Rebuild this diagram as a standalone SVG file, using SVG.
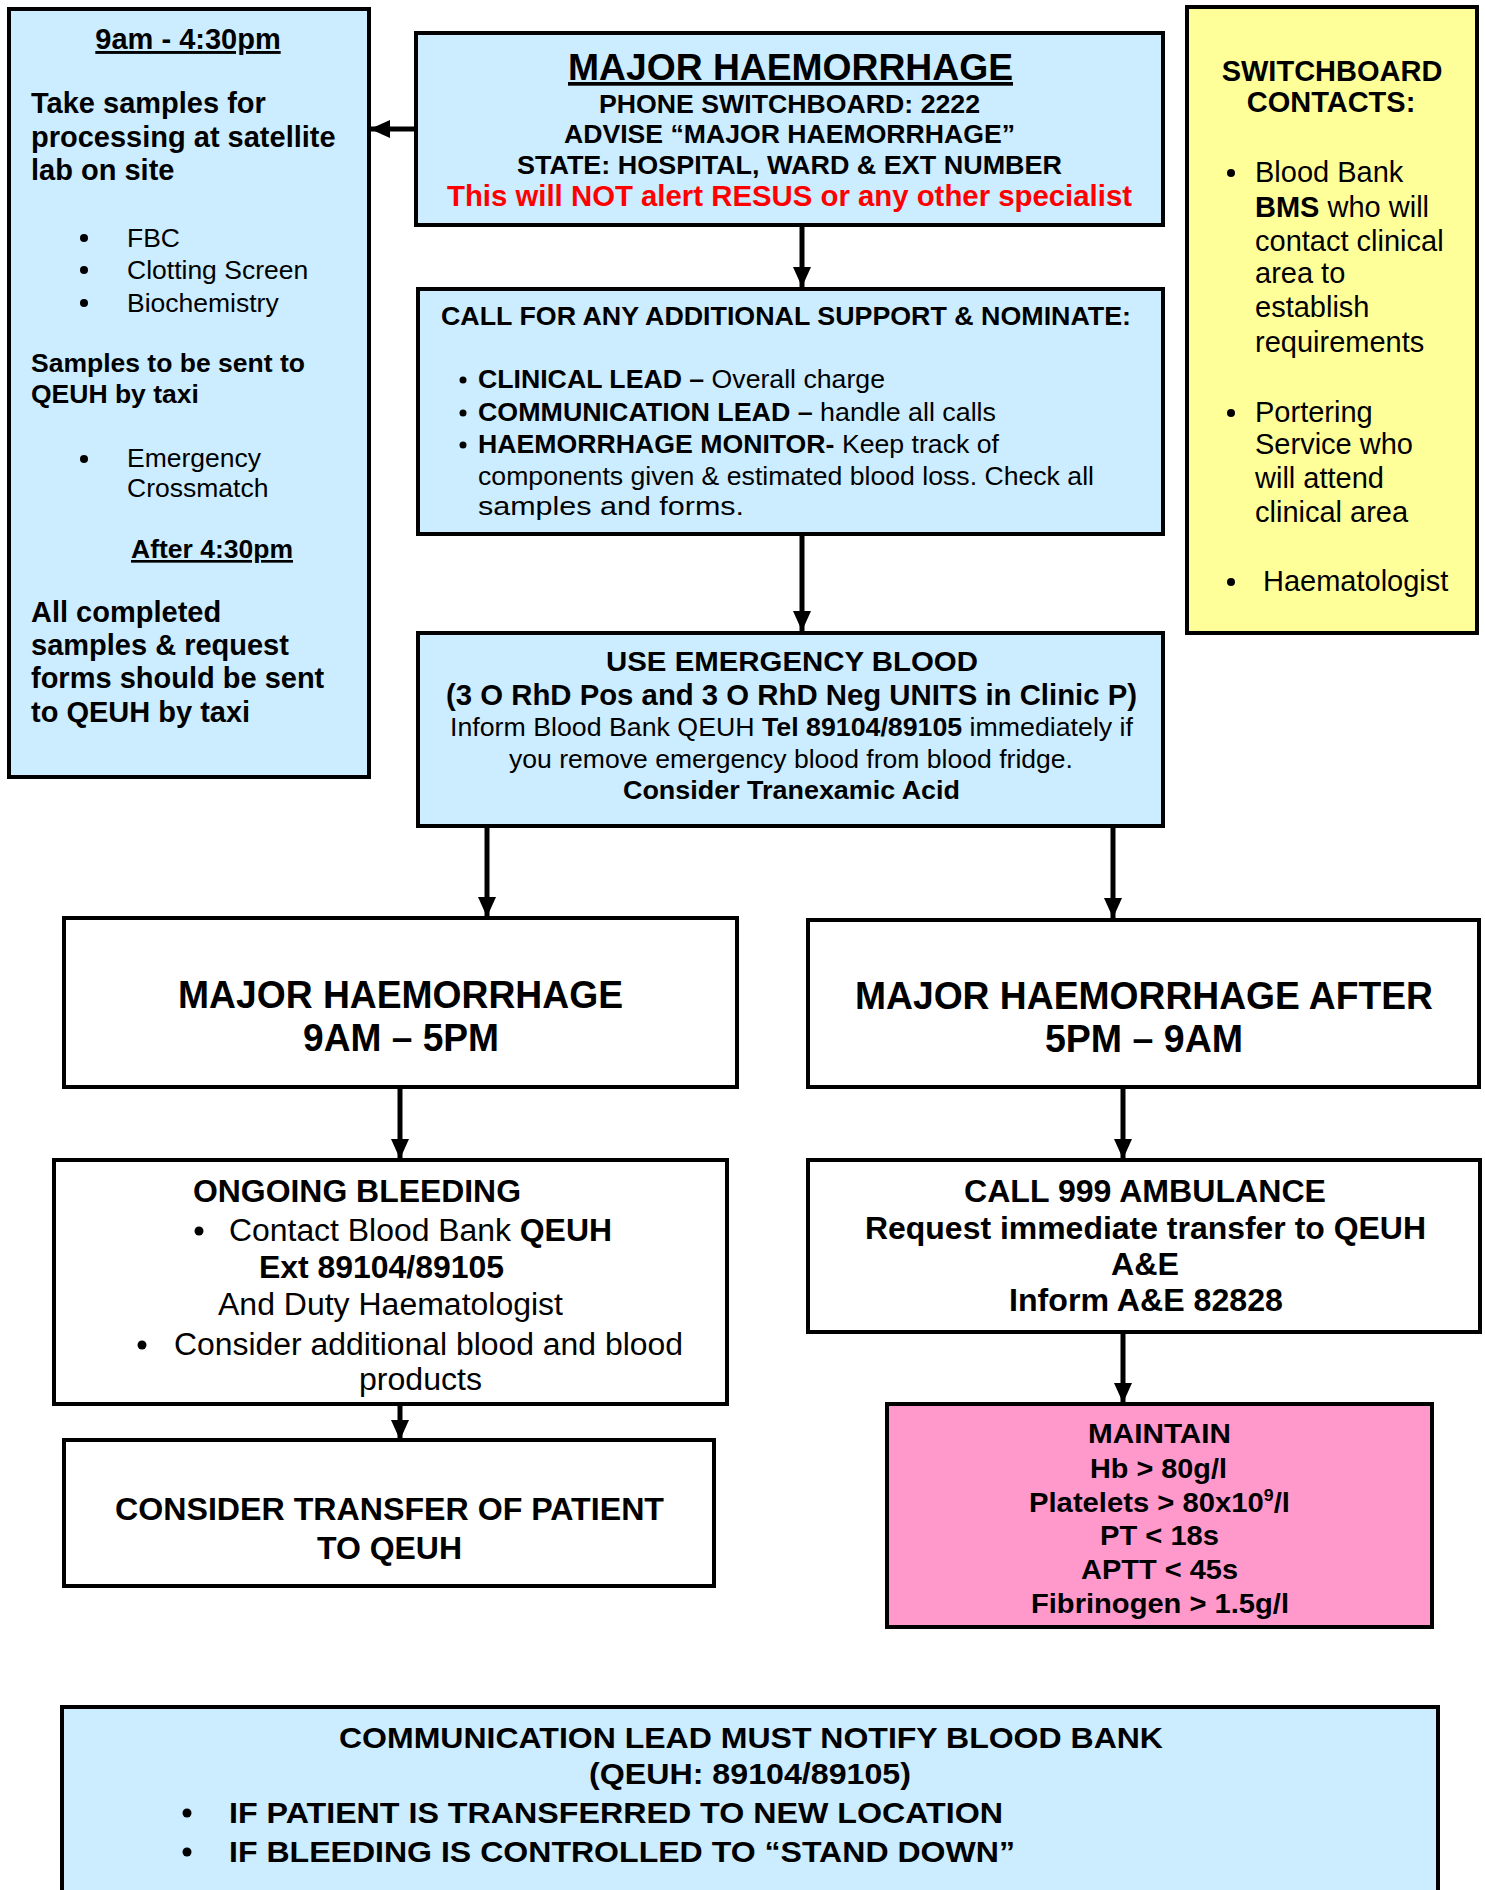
<svg xmlns="http://www.w3.org/2000/svg" width="1485" height="1890" viewBox="0 0 1485 1890">
<style>
.box{stroke:#000;stroke-width:4}
.blue{fill:#CCECFF}
.white{fill:#FFFFFF}
.yellow{fill:#FFFF99}
.pink{fill:#FF99CC}
.w{font-family:"Liberation Sans",Arial,sans-serif;fill:#000}
.n{font-family:"Liberation Sans Narrow","Liberation Sans",Arial,sans-serif;fill:#000}
.b{font-weight:bold}
.u{text-decoration:underline}
.conn{stroke:#000;stroke-width:5;fill:none}
</style>
<defs>
<marker id="ah" markerUnits="userSpaceOnUse" markerWidth="20" markerHeight="20" refX="20" refY="10" orient="auto">
<path d="M0,1 L20,10 L0,19 z" fill="#000"/>
</marker>
</defs>
<rect x="0" y="0" width="1485" height="1890" fill="#fff"/>

<g id="connectors">
<line class="conn" x1="416" y1="129" x2="370" y2="129" marker-end="url(#ah)"/>
<line class="conn" x1="802" y1="227" x2="802" y2="287" marker-end="url(#ah)"/>
<line class="conn" x1="802" y1="534" x2="802" y2="631" marker-end="url(#ah)"/>
<line class="conn" x1="487" y1="826" x2="487" y2="917" marker-end="url(#ah)"/>
<line class="conn" x1="1113" y1="826" x2="1113" y2="918" marker-end="url(#ah)"/>
<line class="conn" x1="400" y1="1087" x2="400" y2="1159" marker-end="url(#ah)"/>
<line class="conn" x1="1123" y1="1087" x2="1123" y2="1159" marker-end="url(#ah)"/>
<line class="conn" x1="400" y1="1404" x2="400" y2="1440" marker-end="url(#ah)"/>
<line class="conn" x1="1123" y1="1332" x2="1123" y2="1403" marker-end="url(#ah)"/>
</g>

<g id="left-samples">
<rect class="box blue" x="9" y="9" width="360" height="768"/>
<text class="w b u" x="188" y="49" font-size="29" text-anchor="middle">9am - 4:30pm</text>
<text class="w b" x="31" y="113" font-size="29">Take samples for</text>
<text class="w b" x="31" y="147" font-size="29">processing at satellite</text>
<text class="w b" x="31" y="180" font-size="29">lab on site</text>
<circle cx="84" cy="238" r="4"/>
<text class="w" x="127" y="247" font-size="26.5">FBC</text>
<circle cx="84" cy="270" r="4"/>
<text class="w" x="127" y="279" font-size="26.5">Clotting Screen</text>
<circle cx="84" cy="303" r="4"/>
<text class="w" x="127" y="312" font-size="26.5">Biochemistry</text>
<text class="w b" x="31" y="372" font-size="26.5">Samples to be sent to</text>
<text class="w b" x="31" y="403" font-size="26.5">QEUH by taxi</text>
<circle cx="84" cy="459" r="4"/>
<text class="w" x="127" y="467" font-size="26.5">Emergency</text>
<text class="w" x="127" y="497" font-size="26.5">Crossmatch</text>
<text class="w b u" x="212" y="558" font-size="26.5" text-anchor="middle">After 4:30pm</text>
<text class="w b" x="31" y="622" font-size="29">All completed</text>
<text class="w b" x="31" y="655" font-size="29">samples &amp; request</text>
<text class="w b" x="31" y="688" font-size="29">forms should be sent</text>
<text class="w b" x="31" y="722" font-size="29">to QEUH by taxi</text>
</g>

<g id="major-haemorrhage-call">
<rect class="box blue" x="416" y="33" width="747" height="192"/>
<text class="n b u" x="568" y="80" font-size="37" textLength="445" lengthAdjust="spacingAndGlyphs">MAJOR HAEMORRHAGE</text>
<text class="n b" x="599" y="113" font-size="26" textLength="381" lengthAdjust="spacingAndGlyphs">PHONE SWITCHBOARD: 2222</text>
<text class="n b" x="564" y="143" font-size="26" textLength="451" lengthAdjust="spacingAndGlyphs">ADVISE “MAJOR HAEMORRHAGE”</text>
<text class="n b" x="517" y="174" font-size="26" textLength="545" lengthAdjust="spacingAndGlyphs">STATE: HOSPITAL, WARD &amp; EXT NUMBER</text>
<text class="n b" x="447" y="206" font-size="29" fill="#FF0000" style="fill:#FF0000" textLength="685" lengthAdjust="spacingAndGlyphs">This will NOT alert RESUS or any other specialist</text>
</g>

<g id="switchboard-contacts">
<rect class="box yellow" x="1187" y="7" width="290" height="626"/>
<text class="w b" x="1332" y="81" font-size="29" text-anchor="middle">SWITCHBOARD</text>
<text class="w b" x="1331" y="112" font-size="29" text-anchor="middle">CONTACTS:</text>
<circle cx="1231" cy="173" r="4"/>
<text class="w" x="1255" y="182" font-size="29">Blood Bank</text>
<text class="w" x="1255" y="217" font-size="29"><tspan class="b">BMS</tspan> who will</text>
<text class="w" x="1255" y="251" font-size="29">contact clinical</text>
<text class="w" x="1255" y="283" font-size="29">area to</text>
<text class="w" x="1255" y="317" font-size="29">establish</text>
<text class="w" x="1255" y="352" font-size="29">requirements</text>
<circle cx="1231" cy="413" r="4"/>
<text class="w" x="1255" y="422" font-size="29">Portering</text>
<text class="w" x="1255" y="454" font-size="29">Service who</text>
<text class="w" x="1255" y="488" font-size="29">will attend</text>
<text class="w" x="1255" y="522" font-size="29">clinical area</text>
<circle cx="1231" cy="582" r="4"/>
<text class="w" x="1263" y="591" font-size="29">Haematologist</text>
</g>

<g id="additional-support">
<rect class="box blue" x="418" y="289" width="745" height="245"/>
<text class="n b" x="441" y="325" font-size="26" textLength="690" lengthAdjust="spacingAndGlyphs">CALL FOR ANY ADDITIONAL SUPPORT &amp; NOMINATE:</text>
<circle cx="463" cy="380" r="3.5"/>
<text class="n" x="478" y="388" font-size="26" textLength="407" lengthAdjust="spacingAndGlyphs"><tspan class="b">CLINICAL LEAD –</tspan> Overall charge</text>
<circle cx="463" cy="413" r="3.5"/>
<text class="n" x="478" y="421" font-size="26" textLength="518" lengthAdjust="spacingAndGlyphs"><tspan class="b">COMMUNICATION LEAD –</tspan> handle all calls</text>
<circle cx="463" cy="445" r="3.5"/>
<text class="n" x="478" y="453" font-size="26" textLength="521" lengthAdjust="spacingAndGlyphs"><tspan class="b">HAEMORRHAGE MONITOR-</tspan> Keep track of</text>
<text class="n" x="478" y="485" font-size="26" textLength="616" lengthAdjust="spacingAndGlyphs">components given &amp; estimated blood loss. Check all</text>
<text class="n" x="478" y="515" font-size="26" textLength="266" lengthAdjust="spacingAndGlyphs">samples and forms.</text>
</g>

<g id="emergency-blood">
<rect class="box blue" x="418" y="633" width="745" height="193"/>
<text class="n b" x="606" y="671" font-size="27" textLength="372" lengthAdjust="spacingAndGlyphs">USE EMERGENCY BLOOD</text>
<text class="n b" x="446" y="705" font-size="30" textLength="691" lengthAdjust="spacingAndGlyphs">(3 O RhD Pos and 3 O RhD Neg UNITS in Clinic P)</text>
<text class="n" x="450" y="736" font-size="26" textLength="683" lengthAdjust="spacingAndGlyphs">Inform Blood Bank QEUH <tspan class="b">Tel 89104/89105</tspan> immediately if</text>
<text class="n" x="509" y="768" font-size="26" textLength="564" lengthAdjust="spacingAndGlyphs">you remove emergency blood from blood fridge.</text>
<text class="n b" x="623" y="799" font-size="26" textLength="337" lengthAdjust="spacingAndGlyphs">Consider Tranexamic Acid</text>
</g>

<g id="mh-day">
<rect class="box white" x="64" y="918" width="673" height="169"/>
<text class="n b" x="178" y="1008" font-size="39" textLength="445" lengthAdjust="spacingAndGlyphs">MAJOR HAEMORRHAGE</text>
<text class="n b" x="303" y="1051" font-size="39" textLength="196" lengthAdjust="spacingAndGlyphs">9AM – 5PM</text>
</g>

<g id="mh-night">
<rect class="box white" x="808" y="920" width="671" height="167"/>
<text class="n b" x="855" y="1009" font-size="39" textLength="578" lengthAdjust="spacingAndGlyphs">MAJOR HAEMORRHAGE AFTER</text>
<text class="n b" x="1045" y="1052" font-size="39" textLength="198" lengthAdjust="spacingAndGlyphs">5PM – 9AM</text>
</g>

<g id="ongoing-bleeding">
<rect class="box white" x="54" y="1160" width="673" height="244"/>
<text class="n b" x="193" y="1202" font-size="31" textLength="328" lengthAdjust="spacingAndGlyphs">ONGOING BLEEDING</text>
<circle cx="199" cy="1231" r="4.5"/>
<text class="n" x="229" y="1241" font-size="31" textLength="383" lengthAdjust="spacingAndGlyphs">Contact Blood Bank <tspan class="b">QEUH</tspan></text>
<text class="n b" x="259" y="1278" font-size="31" textLength="245" lengthAdjust="spacingAndGlyphs">Ext 89104/89105</text>
<text class="n" x="218" y="1315" font-size="31" textLength="345" lengthAdjust="spacingAndGlyphs">And Duty Haematologist</text>
<circle cx="142" cy="1345" r="4.5"/>
<text class="n" x="174" y="1355" font-size="31" textLength="509" lengthAdjust="spacingAndGlyphs">Consider additional blood and blood</text>
<text class="n" x="359" y="1390" font-size="31" textLength="123" lengthAdjust="spacingAndGlyphs">products</text>
</g>

<g id="consider-transfer">
<rect class="box white" x="64" y="1440" width="650" height="146"/>
<text class="n b" x="115" y="1520" font-size="31" textLength="549" lengthAdjust="spacingAndGlyphs">CONSIDER TRANSFER OF PATIENT</text>
<text class="n b" x="317" y="1559" font-size="31" textLength="145" lengthAdjust="spacingAndGlyphs">TO QEUH</text>
</g>

<g id="call-999">
<rect class="box white" x="808" y="1160" width="672" height="172"/>
<text class="n b" x="964" y="1202" font-size="31" textLength="362" lengthAdjust="spacingAndGlyphs">CALL 999 AMBULANCE</text>
<text class="n b" x="865" y="1239" font-size="31" textLength="561" lengthAdjust="spacingAndGlyphs">Request immediate transfer to QEUH</text>
<text class="n b" x="1111" y="1275" font-size="31" textLength="68" lengthAdjust="spacingAndGlyphs">A&amp;E</text>
<text class="n b" x="1009" y="1311" font-size="31" textLength="274" lengthAdjust="spacingAndGlyphs">Inform A&amp;E 82828</text>
</g>

<g id="maintain">
<rect class="box pink" x="887" y="1404" width="545" height="223"/>
<text class="n b" x="1088" y="1443" font-size="28" textLength="143" lengthAdjust="spacingAndGlyphs">MAINTAIN</text>
<text class="n b" x="1090" y="1478" font-size="28" textLength="137" lengthAdjust="spacingAndGlyphs">Hb &gt; 80g/l</text>
<text class="n b" x="1029" y="1512" font-size="28" textLength="261" lengthAdjust="spacingAndGlyphs">Platelets &gt; 80x10<tspan font-size="17" dy="-11">9</tspan><tspan dy="11">/l</tspan></text>
<text class="n b" x="1100" y="1545" font-size="28" textLength="119" lengthAdjust="spacingAndGlyphs">PT &lt; 18s</text>
<text class="n b" x="1081" y="1579" font-size="28" textLength="157" lengthAdjust="spacingAndGlyphs">APTT &lt; 45s</text>
<text class="n b" x="1031" y="1613" font-size="28" textLength="258" lengthAdjust="spacingAndGlyphs">Fibrinogen &gt; 1.5g/l</text>
</g>

<g id="notify-blood-bank">
<rect class="box blue" x="62" y="1707" width="1376" height="200"/>
<text class="n b" x="339" y="1748" font-size="30" textLength="824" lengthAdjust="spacingAndGlyphs">COMMUNICATION LEAD MUST NOTIFY BLOOD BANK</text>
<text class="n b" x="589" y="1784" font-size="30" textLength="322" lengthAdjust="spacingAndGlyphs">(QEUH: 89104/89105)</text>
<circle cx="187" cy="1813" r="4.5"/>
<text class="n b" x="229" y="1823" font-size="30" textLength="774" lengthAdjust="spacingAndGlyphs">IF PATIENT IS TRANSFERRED TO NEW LOCATION</text>
<circle cx="187" cy="1852" r="4.5"/>
<text class="n b" x="229" y="1862" font-size="30" textLength="786" lengthAdjust="spacingAndGlyphs">IF BLEEDING IS CONTROLLED TO “STAND DOWN”</text>
</g>
</svg>
